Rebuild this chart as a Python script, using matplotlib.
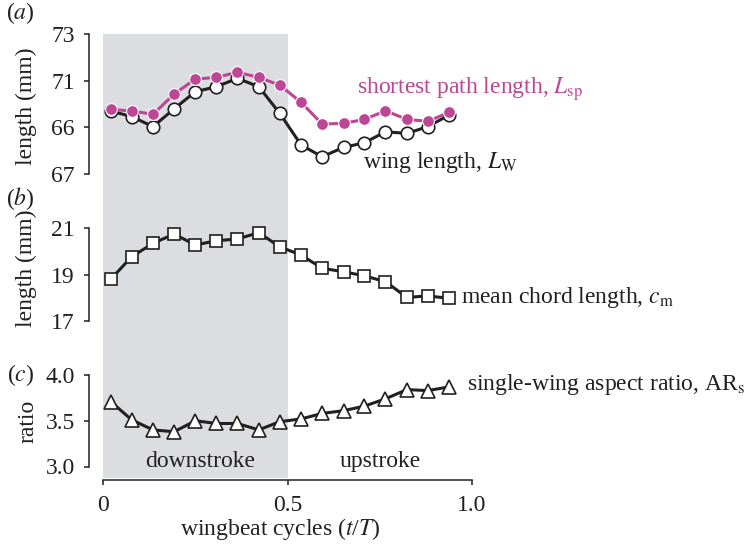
import matplotlib
matplotlib.use('Agg')
import matplotlib.pyplot as plt
import numpy as np

# data
cycle = [0.02, 0.077, 0.135, 0.192, 0.25, 0.307, 0.364, 0.422, 0.479,
         0.537, 0.594, 0.652, 0.709, 0.766, 0.824, 0.881, 0.939]
shortest_path = [69.77, 69.70, 69.56, 70.42, 71.07, 71.14, 71.36, 71.14, 70.81,
                 70.07, 69.14, 69.17, 69.34, 69.71, 69.34, 69.26, 69.64]
wing_length = [69.70, 69.46, 69.03, 69.79, 70.53, 70.74, 71.10, 70.74, 69.60,
               68.24, 67.74, 68.14, 68.34, 68.81, 68.74, 69.03, 69.53]
chord_length = [18.79, 19.77, 20.35, 20.75, 20.28, 20.46, 20.54, 20.81, 20.20,
                19.84, 19.27, 19.12, 18.94, 18.69, 18.01, 18.07, 17.97]
aspect_ratio = [3.71, 3.51, 3.40, 3.38, 3.50, 3.47, 3.47, 3.40, 3.49,
                3.52, 3.58, 3.61, 3.66, 3.74, 3.84, 3.83, 3.87]

ticks_a = [67, 69, 71, 73]
ticklabels_a = ['67', '66', '71', '73']   # as printed in the figure
ticks_b = [17, 19, 21]
ticks_c = [3.0, 3.5, 4.0]
ticks_x = [0, 0.5, 1.0]
ticklabels_x = ['0', '0.5', '1.0']

magenta = '#be4696'
dark = '#231f20'
shade = '#dcdde0'

plt.rcParams['font.family'] = ['Liberation Serif', 'DejaVu Serif']
plt.rcParams['mathtext.fontset'] = 'stix'
plt.rcParams['font.size'] = 17

W, H = 748, 547
fig = plt.figure(figsize=(W / 100, H / 100), dpi=100)

def px_axes(top, bottom, left=88.5, right=471.7):
    return [left / W, (H - bottom) / H, (right - left) / W, (bottom - top) / H]

xlim = (-0.0402, 1.0)

# shaded downstroke spanning all panels
ax_bg = fig.add_axes(px_axes(34, 478))
ax_bg.axvspan(0, 0.5, color=shade, lw=0)
ax_bg.set_xlim(xlim)
ax_bg.axis('off')
ax_bg.set_zorder(0)

ax_a = fig.add_axes(px_axes(34, 174))
ax_b = fig.add_axes(px_axes(228.3, 320.7))
ax_c = fig.add_axes(px_axes(375, 466.5))

for ax in (ax_a, ax_b, ax_c):
    ax.set_zorder(1)
    ax.patch.set_visible(False)
    ax.set_xlim(xlim)
    for s in ('top', 'right'):
        ax.spines[s].set_visible(False)
    ax.spines['left'].set_linewidth(1.1)
    ax.spines['left'].set_color(dark)
    ax.tick_params(axis='y', length=3.8, width=1.1, pad=6, colors=dark)
for ax in (ax_a, ax_b):
    ax.spines['bottom'].set_visible(False)
    ax.set_xticks([])

mk = dict(markeredgecolor=dark, markeredgewidth=1.2, markerfacecolor='white')

# (a)
ax_a.plot(cycle, wing_length, '-o', color=dark, lw=2.2, markersize=9, clip_on=False, **mk)
ax_a.plot(cycle, shortest_path, '-o', color=magenta, lw=2.2, markersize=8.5,
          markeredgecolor='white', markeredgewidth=0.8, clip_on=False)
ax_a.set_ylim(67, 73)
ax_a.set_yticks(ticks_a)
ax_a.set_yticklabels(ticklabels_a)
ax_a.text(0.688, 70.46, r'shortest path length, $L_{\mathrm{sp}}$', color=magenta,
          va='baseline', ha='left', clip_on=False)
ax_a.text(0.704, 67.25, r'wing length, $L_{\mathrm{W}}$', color=dark,
          va='baseline', ha='left', clip_on=False)

# (b)
ax_b.plot(cycle, chord_length, '-s', color=dark, lw=2.2, markersize=8.5, clip_on=False, **mk)
ax_b.set_ylim(17, 21)
ax_b.set_yticks(ticks_b)
ax_b.text(0.972, 17.77, r'mean chord length, $c_{\mathrm{m}}$', color=dark,
          va='baseline', ha='left', clip_on=False)

# (c)
ax_c.plot(cycle, aspect_ratio, '-^', color=dark, lw=2.2, markersize=9.5, clip_on=False, **mk)
ax_c.set_ylim(3.0, 4.0)
ax_c.set_yticks(ticks_c)
ax_c.set_yticklabels(['3.0', '3.5', '4.0'])
ax_c.text(0.986, 3.837, r'single-wing aspect ratio, AR$_{\mathrm{s}}$', color=dark,
          va='baseline', ha='left', clip_on=False)
ax_c.text(0.264, 3.055, 'downstroke', color=dark, ha='center', va='center')
ax_c.text(0.751, 3.055, 'upstroke', color=dark, ha='center', va='center')

ax_c.spines['bottom'].set_position(('outward', 9.7))
ax_c.spines['bottom'].set_bounds(0, 1.0)
ax_c.spines['bottom'].set_linewidth(1.1)
ax_c.spines['bottom'].set_color(dark)
ax_c.set_xticks(ticks_x)
ax_c.set_xticklabels(ticklabels_x)
ax_c.tick_params(axis='x', length=3.8, width=1.1, pad=7, colors=dark)
ax_c.set_xlabel(r'wingbeat cycles ($t$/$T$)', color=dark, labelpad=0)

# panel letters and y labels
def ftext(x, y, s, **kw):
    fig.text(x / W, 1 - y / H, s, color=dark, ha='center', va='center', **kw)

ftext(20, 13, r'($a$)')
ftext(20, 199, r'($b$)')
ftext(21, 375, r'($c$)')
ftext(26, 106, 'length (mm)', rotation=90)
ftext(26, 268, 'length (mm)', rotation=90)
ftext(28, 421, 'ratio', rotation=90)

fig.savefig('out.png', dpi=100)
